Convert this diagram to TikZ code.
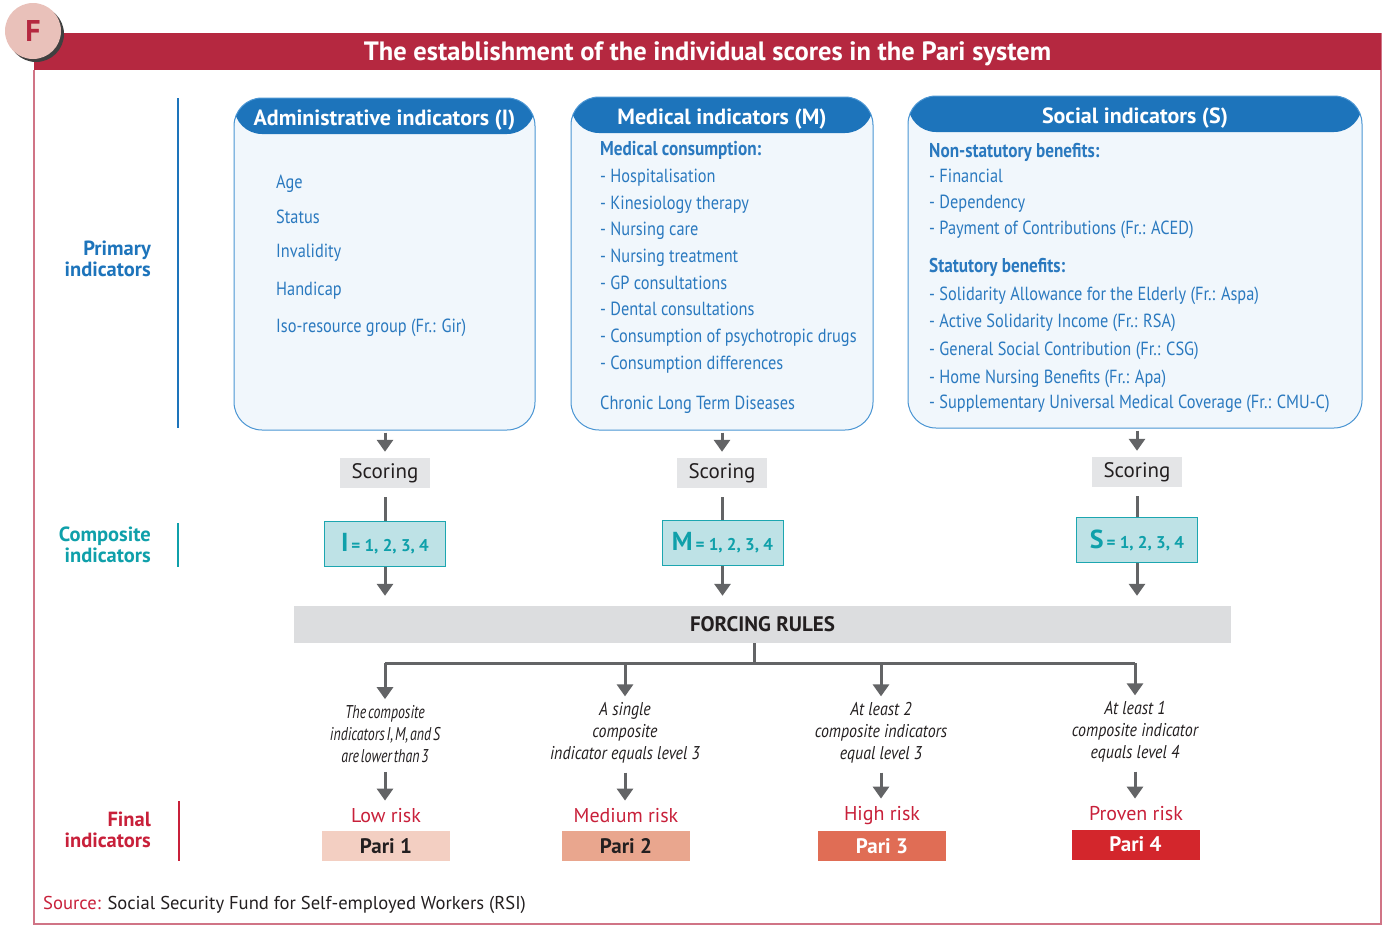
\documentclass[tikz,border=0pt]{standalone}
\usepackage{fontspec}
\setmainfont{PT Sans}
\newfontfamily\condf[FakeStretch=0.86]{PT Sans}
\newfontfamily\condt[FakeStretch=0.75,WordSpace=0.5]{PT Sans}
\usetikzlibrary{arrows.meta}
\definecolor{crimson}{HTML}{B52840}
\definecolor{redlbl}{HTML}{C8203A}
\definecolor{framec}{HTML}{D07486}
\definecolor{Fpink}{HTML}{E9C1BA}
\definecolor{hdrblue}{HTML}{1D74BB}
\definecolor{itemblue}{HTML}{2A79BF}
\definecolor{bodyfill}{HTML}{F1F7FC}
\definecolor{boxline}{HTML}{4A95D3}
\definecolor{teal}{HTML}{0FA0AA}
\definecolor{compfill}{HTML}{BEE2E6}
\definecolor{compline}{HTML}{1CA6B0}
\definecolor{arrgray}{HTML}{636466}
\definecolor{scorefill}{HTML}{E4E5E7}
\definecolor{forcefill}{HTML}{DCDDDF}
\definecolor{darktext}{HTML}{231F20}
\definecolor{pari1}{HTML}{F3CFC2}
\definecolor{pari2}{HTML}{E9A68E}
\definecolor{pari3}{HTML}{E06D55}
\definecolor{pari4}{HTML}{D3262C}
\tikzset{
  indbox/.style={draw=boxline, line width=1pt, fill=bodyfill, rounded corners=28pt, inner sep=0pt,
    path picture={\fill[hdrblue] (path picture bounding box.north west) rectangle ([yshift=-36pt]path picture bounding box.north east);}},
  hdrtext/.style={text=white, font=\fontsize{22}{24}\selectfont\bfseries, inner sep=0pt},
  item/.style={anchor=west, inner sep=0pt, text height=13pt, text depth=0pt, text=itemblue, font=\condf\fontsize{19}{22}\selectfont},
  itembold/.style={item, font=\condf\fontsize{20}{22}\selectfont\bfseries},
  sidelbl/.style={anchor=east, align=right, inner sep=0pt, font=\fontsize{20.5}{21.5}\selectfont\bfseries},
  scorebox/.style={fill=scorefill, minimum width=90pt, minimum height=30pt, inner sep=0pt, text=darktext, font=\fontsize{21}{22}\selectfont},
  compbox/.style={fill=compfill, draw=compline, line width=1pt, minimum width=121pt, minimum height=45pt, inner sep=0pt, text=teal},
  arr/.style={draw=arrgray, line width=3pt, -{Triangle[width=16pt,length=12pt]}},
  ln/.style={draw=arrgray, line width=3pt},
  cond/.style={align=center, inner sep=0pt, text=darktext, font=\condf\itshape\fontsize{18.5}{22}\selectfont},
  risk/.style={inner sep=0pt, text=redlbl, font=\fontsize{20}{22}\selectfont},
  paribox/.style={minimum width=128pt, minimum height=30pt, inner sep=0pt, font=\fontsize{21}{22}\selectfont\bfseries},
}
\newcommand{\compval}[1]{{\fontsize{26}{26}\selectfont\bfseries #1}\;{\fontsize{17}{17}\selectfont\bfseries = 1, 2, 3, 4}}
\begin{document}
\begin{tikzpicture}[x=1pt,y=-1pt]
\useasboundingbox (0,0) rectangle (1383,926);
% frame
\draw[framec, line width=1.2pt] (34,70) -- (34,924) -- (1381,924) -- (1381,33);
% title band
\node[fill=crimson, minimum width=1347pt, minimum height=37pt, inner sep=0pt, text=white,
  text height=17pt, text depth=0pt,
  font=\fontsize{26.5}{28}\selectfont\bfseries] (band) at (707.5,51.5) {The establishment of the individual scores in the Pari system};
% F badge
\fill[black!75] (36,34) circle (28pt);
\node[circle, fill=Fpink, minimum size=56pt, inner sep=0pt, text=crimson, font=\fontsize{30}{30}\selectfont\bfseries] (F) at (33,31) {F};

% side labels
\node[sidelbl, text=hdrblue] (prim) at (151,259) {Primary\\indicators};
\draw[hdrblue, line width=2.5pt] (178,98) -- (178,428);
\node[sidelbl, text=teal] (compl) at (151,545) {Composite\\indicators};
\draw[teal, line width=2.5pt] (178,523) -- (178,567);
\node[sidelbl, text=redlbl] (finl) at (151,830) {Final\\indicators};
\draw[redlbl, line width=2.5pt] (179,801) -- (179,861);

% indicator boxes
\node[indbox, minimum width=301pt, minimum height=332pt] (adm) at (384.5,264) {};
\node[hdrtext] (admh) at (384.5,120) {Administrative indicators (I)};
\node[indbox, minimum width=302pt, minimum height=333pt] (med) at (722,263.5) {};
\node[hdrtext] (medh) at (722,119) {Medical indicators (M)};
\node[indbox, minimum width=454pt, minimum height=332pt] (soc) at (1135,262) {};
\node[hdrtext] (soch) at (1135,118) {Social indicators (S)};

% admin items
\foreach \t/\y [count=\i] in {{Age}/182,{Status}/217,{Invalidity}/251,{Handicap}/289,{Iso-resource group (Fr.: Gir)}/326}
  \node[item] (a\i) at (276,\y) {\t};
% medical items
\node[itembold] (m0) at (600,149) {Medical consumption:};
\foreach \t/\y [count=\i] in {{- Hospitalisation}/176,{- Kinesiology therapy}/203,{- Nursing care}/229,{- Nursing treatment}/256,{- GP consultations}/283,{- Dental consultations}/309,{- Consumption of psychotropic drugs}/336,{- Consumption differences}/363,{Chronic Long Term Diseases}/403}
  \node[item] (m\i) at (600,\y) {\t};
% social items
\node[itembold] (s0) at (929,151) {Non-statutory benefits:};
\foreach \t/\y [count=\i] in {{- Financial}/176,{- Dependency}/202,{- Payment of Contributions (Fr.: ACED)}/228}
  \node[item] (s\i) at (929,\y) {\t};
\node[itembold] (t0) at (929,266) {Statutory benefits:};
\foreach \t/\y [count=\i] in {{- Solidarity Allowance for the Elderly (Fr.: Aspa)}/294,{- Active Solidarity Income (Fr.: RSA)}/321,{- General Social Contribution (Fr.: CSG)}/349,{- Home Nursing Benefits (Fr.: Apa)}/377,{- Supplementary Universal Medical Coverage (Fr.: CMU-C)}/402}
  \node[item] (t\i) at (929,\y) {\t};

% scoring
\node[scorebox] (sc1) at (385,473) {Scoring};
\node[scorebox] (sc2) at (722,473) {Scoring};
\node[scorebox] (sc3) at (1137,472) {Scoring};
% composite
\node[compbox] (c1) at (385,543.5) {\compval{I}};
\node[compbox] (c2) at (722.5,543) {\compval{M}};
\node[compbox] (c3) at (1137,540) {\compval{S}};
% forcing rules
\node[fill=forcefill, minimum width=937pt, minimum height=37pt, inner sep=0pt, text=darktext,
  font=\fontsize{21}{22}\selectfont\bfseries] (force) at (762.5,624.5) {FORCING RULES};

% arrows boxes -> scoring -> composite -> forcing
\draw[arr, shorten <=2pt, shorten >=6pt] (adm.south -| sc1.north) -- (sc1.north);
\draw[arr, shorten <=2pt, shorten >=6pt] (med.south -| sc2.north) -- (sc2.north);
\draw[arr, shorten <=2pt, shorten >=6pt] (soc.south -| sc3.north) -- (sc3.north);
\draw[ln, shorten <=9pt] (sc1.south) -- (sc1.south |- c1.north);
\draw[ln, shorten <=9pt] (sc2.south) -- (sc2.south |- c2.north);
\draw[ln, shorten <=9pt] (sc3.south) -- (sc3.south |- c3.north);
\draw[arr, shorten >=10pt] (c1.south) -- (c1.south |- force.north);
\draw[arr, shorten >=10pt] (c2.south) -- (c2.south |- force.north);
\draw[arr, shorten >=10pt] (c3.south) -- (c3.south |- force.north);

% conditions
\node[cond] (d1) at (385,734) {{\condt The composite}\\{\condt indicators I, M, and S}\\{\condt are lower than 3}};
\node[cond] (d2) at (625,733) {A single\\composite\\indicator equals level 3};
\node[cond] (d3) at (881,733) {At least 2\\composite indicators\\equal level 3};
\node[cond] (d4) at (1135,732) {At least 1\\composite indicator\\equals level 4};

\coordinate (fj) at (754,663);
\draw[ln] (force.south -| fj) -- (fj);
\draw[ln] (fj) -- (fj -| d1.north);
\draw[ln] (fj) -- (fj -| d4.north);
\draw[arr, shorten >=6pt] (fj -| d1.north) -- (d1.north);
\draw[arr, shorten >=6pt] (fj -| d2.north) -- (d2.north);
\draw[arr, shorten >=6pt] (fj -| d3.north) -- (d3.north);
\draw[arr, shorten >=6pt] (fj -| d4.north) -- (d4.north);

% risks
\node[risk] (r1) at (386,816) {Low risk};
\node[risk] (r2) at (626,816) {Medium risk};
\node[risk] (r3) at (882,816) {High risk};
\node[risk] (r4) at (1136,814) {Proven risk};
\foreach \i in {1,2,3,4}
  \draw[arr, shorten <=9pt, shorten >=8pt] (d\i.south) -- (d\i.south |- r\i.north);

% pari
\node[paribox, fill=pari1, text=darktext] (p1) at (386,846) {Pari 1};
\node[paribox, fill=pari2, text=darktext] (p2) at (626,846) {Pari 2};
\node[paribox, fill=pari3, text=white] (p3) at (882,846) {Pari 3};
\node[paribox, fill=pari4, text=white] (p4) at (1135.5,844.5) {Pari 4};

% source
\node[anchor=west, inner sep=0pt, text=darktext, font=\fontsize{18.6}{22}\selectfont] (src) at (43,905)
  {\textcolor{redlbl}{Source:} Social Security Fund for Self-employed Workers (RSI)};
\end{tikzpicture}
\end{document}
